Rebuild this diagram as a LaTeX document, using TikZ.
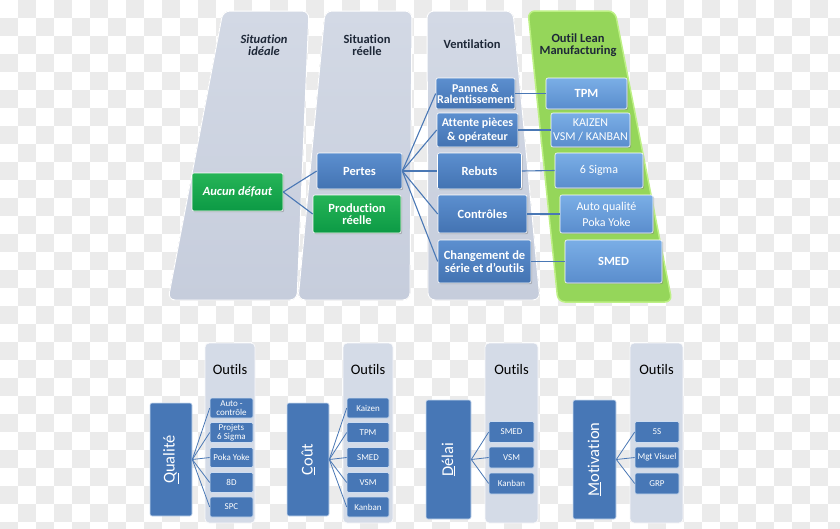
\documentclass[tikz,border=0pt]{standalone}
\usepackage{fontspec}
\setmainfont{Carlito}[Ligatures=NoCommon]
\usetikzlibrary{shadows}

\definecolor{checker}{HTML}{EBEBEB}
\definecolor{coltop}{HTML}{D3D9E5}
\definecolor{colbot}{HTML}{C6CDDC}
\definecolor{leanfill}{HTML}{95D65A}
\definecolor{leanedge}{HTML}{BDF085}
\definecolor{boxtop}{HTML}{5C8FCF}
\definecolor{boxbot}{HTML}{4373B2}
\definecolor{greentop}{HTML}{26B457}
\definecolor{greenbot}{HTML}{0C9A45}
\definecolor{tooltop}{HTML}{7AAEE6}
\definecolor{toolbot}{HTML}{5A8DCD}
\definecolor{linkblue}{HTML}{4A78B5}
\definecolor{panelfill}{HTML}{D4DBE7}
\definecolor{headtxt}{HTML}{1E2838}

\tikzset{
  sz/.style 2 args={minimum width=#1pt, minimum height=#2pt},
  box/.style={rectangle, rounded corners=2pt, draw=white, line width=0.6pt,
    top color=boxtop, bottom color=boxbot, text=white, align=center, inner sep=1pt,
    font=\fontsize{12.5}{12.5}\selectfont\bfseries,
    drop shadow={shadow xshift=1.2pt, shadow yshift=-1.2pt, opacity=0.45}},
  gbox/.style={box, top color=greentop, bottom color=greenbot},
  tbox/.style={box, top color=tooltop, bottom color=toolbot},
  head/.style={text=headtxt, align=center, font=\fontsize{12.5}{12}\selectfont\bfseries},
  panel/.style={fill=panelfill, draw=white!85!panelfill, line width=0.8pt, rounded corners=4pt},
  bigbox/.style={rectangle, rounded corners=2pt, fill=boxbot!85!boxtop, draw=white!70!boxtop,
    line width=0.6pt, text=white, inner sep=0pt, font=\fontsize{16.5}{16}\selectfont},
  sbox/.style={rectangle, rounded corners=1.5pt, fill=boxbot!85!boxtop, draw=white!70!boxtop,
    line width=0.6pt, text=white, align=center, inner sep=1pt, minimum height=20pt,
    font=\fontsize{9}{9}\selectfont},
  outils/.style={font=\fontsize{14.5}{15}\selectfont},
  link/.style={draw=linkblue, line width=1.1pt},
  slink/.style={draw=linkblue, line width=0.8pt}
}

\begin{document}
\begin{tikzpicture}[x=1pt, y=-1pt]
    % Fix the frame and draw the checkered background
    \useasboundingbox (0,0) rectangle (840,528);
    \clip (0,0) rectangle (840,528);
    \fill[white] (0,0) rectangle (840,528);
    \foreach \i in {0,...,46}
      \foreach \j in {0,...,29} {
        \pgfmathtruncatemacro\odd{mod(\i+\j,2)}
        \ifnum\odd=1 \fill[checker] (\i*18,\j*18) rectangle ++(18,18); \fi
      }

    % Draw the four columns
    \fill[top color=coltop, bottom color=colbot, draw=white, line width=1pt, rounded corners=7pt]
      (223,11) -- (309,11) -- (297,300) -- (168,300) -- cycle;
    \fill[top color=coltop, bottom color=colbot, draw=white, line width=1pt, rounded corners=7pt]
      (325,11) -- (412,11) -- (410,300) -- (298,300) -- cycle;
    \fill[top color=coltop, bottom color=colbot, draw=white, line width=1pt, rounded corners=7pt]
      (427,11) -- (513,11) -- (540,300) -- (428,300) -- cycle;
    \fill[leanfill, draw=leanedge, line width=1.5pt, rounded corners=7pt]
      (528,11) -- (615,11) -- (672,302) -- (558,302) -- cycle;

    % Column titles
    \node[head, font=\fontsize{12.5}{12}\selectfont\bfseries\itshape] (tideal) at (264,45) {Situation\\idéale};
    \node[head] (treel) at (367,45) {Situation\\réelle};
    \node[head] (tvent) at (472,44) {Ventilation};
    \node[head] (tlean) at (578,45) {Outil Lean\\Manufacturing};

    % Situations
    \node[gbox, sz={91}{38}, font=\fontsize{12.5}{12.5}\selectfont\bfseries\itshape] (defaut) at (237.5,192) {Aucun défaut};
    \node[box, sz={85}{36}] (pertes) at (359.5,171) {Pertes};
    \node[gbox, sz={88}{38}] (prod) at (357,214) {Production\\réelle};

    % Ventilation of the losses
    \node[box, sz={79}{31}, font=\fontsize{12}{11}\selectfont\bfseries] (pannes) at (475.5,93.5) {Pannes \&\\Ralentissement};
    \node[box, sz={81}{34}, font=\fontsize{12}{14}\selectfont\bfseries] (attente) at (477.5,130) {Attente pièces\\\& opérateur};
    \node[box, sz={84}{36}] (rebuts) at (479.5,171) {Rebuts};
    \node[box, sz={89}{38}] (contr) at (482.5,214) {Contrôles};
    \node[box, sz={93}{43}] (chgt) at (484.5,261.5) {Changement de\\série et d’outils};

    % Lean tools
    \node[tbox, sz={81}{31}] (tpm) at (586.5,93.5) {TPM};
    \node[tbox, sz={79}{34}, font=\fontsize{12}{14}\selectfont] (kaizen) at (590.5,130) {KAIZEN\\VSM / KANBAN};
    \node[tbox, sz={88}{35}, font=\fontsize{12}{12}\selectfont] (sigma) at (599,170.5) {6 Sigma};
    \node[tbox, sz={93}{38}, font=\fontsize{12}{16}\selectfont] (autoq) at (606.5,214) {Auto qualité\\Poka Yoke};
    \node[tbox, sz={97}{43}] (smed) at (613.5,261.5) {SMED};

    % Connect the boxes
    \draw[link] (defaut.east) -- (pertes.west);
    \draw[link] (defaut.east) -- (prod.west);
    \foreach \v in {pannes,attente,rebuts,contr,chgt}
      \draw[link] (pertes.east) -- (\v.west);
    \draw[link] (pannes.east) -- (tpm.west);
    \draw[link] (attente.east) -- (kaizen.west);
    \draw[link] (rebuts.east) -- (sigma.west);
    \draw[link] (contr.east) -- (autoq.west);
    \draw[link] (chgt.east) -- (smed.west);

    % Qualite
    \fill[panel] (205,343) rectangle (255,523);
    \node[outils] (outq) at (230,370) {Outils};
    \node[bigbox, sz={42}{113}] (qual) at (171,459.5) {\rotatebox{90}{\underline{Q}ualité}};
    \foreach \nm/\yy/\txt in {q1/408/{Auto -\\contrôle}, q2/432.5/{Projets\\6 Sigma}, q3/457.5/Poka Yoke, q4/482.5/8D, q5/507/SPC} {
      \node[sbox, minimum width=43pt] (\nm) at (231.5,\yy) {\txt};
      \draw[slink] (qual.east) -- (\nm.west);
    }

    % Cout
    \fill[panel] (343,343) rectangle (393,523);
    \node[outils] (outc) at (368,370) {Outils};
    \node[bigbox, sz={42}{113}] (cout) at (308,459.5) {\rotatebox{90}{\underline{C}oût}};
    \foreach \nm/\yy/\txt in {c1/408/Kaizen, c2/432.5/TPM, c3/457.5/SMED, c4/482.5/VSM, c5/507/Kanban} {
      \node[sbox, minimum width=42pt] (\nm) at (368,\yy) {\txt};
      \draw[slink] (cout.east) -- (\nm.west);
    }

    % Delai
    \fill[panel] (485,343) rectangle (538,523);
    \node[outils] (outd) at (511.5,370) {Outils};
    \node[bigbox, sz={45}{119}] (delai) at (448.5,459.5) {\rotatebox{90}{\underline{D}élai}};
    \foreach \nm/\yy/\txt in {d1/432/SMED, d2/457.5/VSM, d3/483.5/Kanban} {
      \node[sbox, minimum width=45pt, minimum height=21pt] (\nm) at (511.5,\yy) {\txt};
      \draw[slink] (delai.east) -- (\nm.west);
    }

    % Motivation
    \fill[panel] (630,343) rectangle (683,523);
    \node[outils] (outm) at (656.5,370) {Outils};
    \node[bigbox, sz={43}{119}] (motiv) at (594.5,459.5) {\rotatebox{90}{\underline{M}otivation}};
    \foreach \nm/\yy/\txt in {m1/432/5S, m2/457.5/Mgt Visuel, m3/483.5/GRP} {
      \node[sbox, minimum width=44pt, minimum height=21pt] (\nm) at (657,\yy) {\txt};
      \draw[slink] (motiv.east) -- (\nm.west);
    }
\end{tikzpicture}
\end{document}
